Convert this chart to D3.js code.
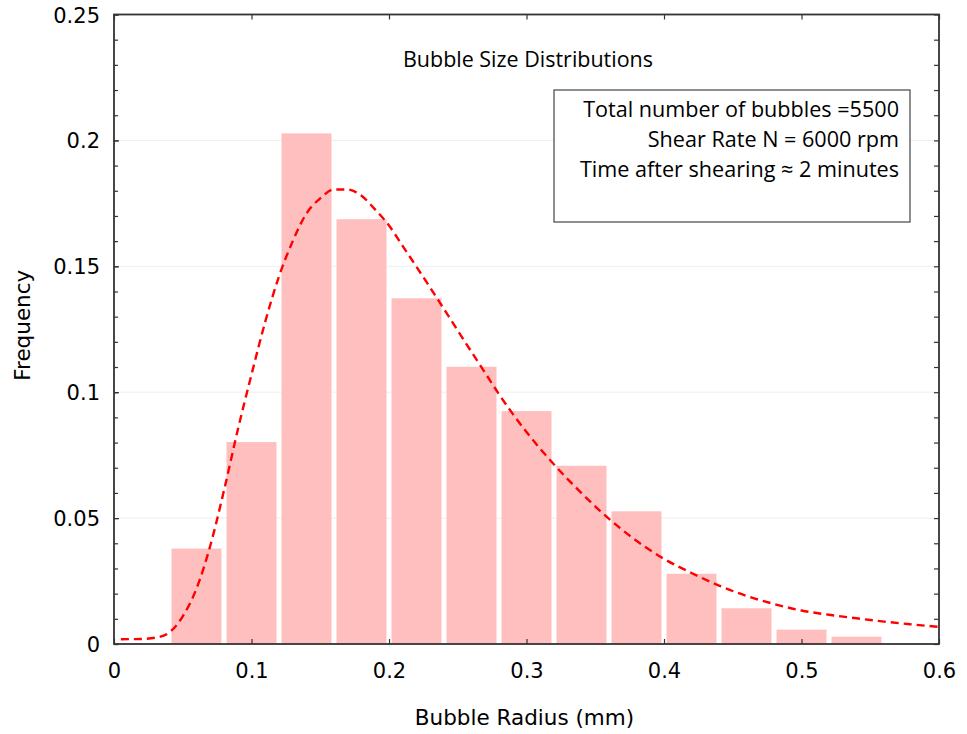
<!DOCTYPE html>
<html>
<head>
<meta charset="utf-8">
<script src="https://cdn.jsdelivr.net/npm/d3@7"></script>
<style>
  html, body { margin: 0; padding: 0; background: #fff; }
  svg { display: block; }
</style>
</head>
<body>
<svg id="chart" width="967" height="734"></svg>
<script>
// Histogram bins (left edges, mm) and their relative frequencies
const binStarts = [0.04, 0.08, 0.12, 0.16, 0.20, 0.24, 0.28, 0.32, 0.36, 0.40, 0.44, 0.48, 0.52];
const binWidth = 0.04;
const frequencies = [0.0379, 0.0802, 0.2028, 0.1687, 0.1373, 0.1101, 0.0925, 0.0708, 0.0527, 0.0279, 0.0142, 0.0057, 0.0029];

// Fitted distribution curve (radius, frequency)
const fitRadius = [0.005, 0.02, 0.03, 0.04, 0.05, 0.06, 0.07, 0.08, 0.09, 0.10, 0.11, 0.12, 0.13, 0.14, 0.15,
                   0.16, 0.17, 0.18, 0.19, 0.20, 0.21, 0.22, 0.23, 0.24, 0.25, 0.26, 0.27, 0.28, 0.29, 0.30,
                   0.32, 0.34, 0.36, 0.38, 0.40, 0.42, 0.44, 0.46, 0.48, 0.50, 0.52, 0.54, 0.56, 0.58, 0.60];
const fitFreq = [0.0019, 0.0020, 0.0025, 0.0045, 0.011, 0.022, 0.039, 0.061, 0.085, 0.107, 0.128, 0.146, 0.160, 0.171, 0.177,
                 0.1805, 0.1805, 0.178, 0.1725, 0.1662, 0.158, 0.1498, 0.1415, 0.133, 0.1245, 0.116, 0.1076, 0.0992, 0.0914, 0.0842,
                 0.0713, 0.0599, 0.0497, 0.0410, 0.0338, 0.0282, 0.0232, 0.0191, 0.0159, 0.0133, 0.0116, 0.0102, 0.0089, 0.0078, 0.0068];

// Axis ticks
const xTicks = [0, 0.1, 0.2, 0.3, 0.4, 0.5, 0.6];
const xTickLabels = ["0", "0.1", "0.2", "0.3", "0.4", "0.5", "0.6"];
const yTicks = [0, 0.05, 0.1, 0.15, 0.2, 0.25];
const yTickLabels = ["0", "0.05", "0.1", "0.15", "0.2", "0.25"];
const yMinorTicks = d3.range(0, 26).map(i => i / 100);

// Annotation texts
const titleText = "Bubble Size Distributions";
const infoLines = ["Total number of bubbles =5500", "Shear Rate N = 6000 rpm", "Time after shearing \u2248 2 minutes"];
const xLabel = "Bubble Radius (mm)";
const yLabel = "Frequency";

const svg = d3.select("#chart");
const plot = { left: 114, right: 939, top: 14.5, bottom: 644 };

const x = d3.scaleLinear().domain([0, 0.6]).range([plot.left, plot.right]);
const y = d3.scaleLinear().domain([0, 0.25]).range([plot.bottom, plot.top]);

const tickFont = "'DejaVu Sans', Verdana, sans-serif";
const textFont = "'Open Sans', Lato, sans-serif";

// faint horizontal grid
svg.append("g")
  .selectAll("line")
  .data(yTicks.slice(1, -1))
  .join("line")
  .attr("x1", plot.left).attr("x2", plot.right)
  .attr("y1", d => y(d)).attr("y2", d => y(d))
  .attr("stroke", "#efefef").attr("stroke-width", 1);

// histogram bars, separated by a white gap
const gap = 2.5;
svg.append("g")
  .selectAll("rect")
  .data(binStarts.map((s, i) => ({ s, f: frequencies[i] })))
  .join("rect")
  .attr("x", d => x(d.s) + gap)
  .attr("width", d => x(d.s + binWidth) - x(d.s) - 2 * gap)
  .attr("y", d => y(d.f))
  .attr("height", d => y(0) - y(d.f))
  .attr("fill", "#ffbfbf");

// fitted curve
const line = d3.line()
  .x(d => x(d[0]))
  .y(d => y(d[1]))
  .curve(d3.curveMonotoneX);

svg.append("path")
  .datum(fitRadius.map((r, i) => [r, fitFreq[i]]))
  .attr("d", line)
  .attr("fill", "none")
  .attr("stroke", "#ff0000")
  .attr("stroke-width", 2.4)
  .attr("stroke-dasharray", "8,5");

// axes (ticks point inward)
const axisColor = "#333";
const bottomAxis = svg.append("g")
  .attr("transform", `translate(0,${plot.bottom})`)
  .call(d3.axisBottom(x).tickValues(xTicks).tickFormat((d, i) => xTickLabels[i]).tickSizeInner(-5).tickSizeOuter(0).tickPadding(14));
const topAxis = svg.append("g")
  .attr("transform", `translate(0,${plot.top})`)
  .call(d3.axisTop(x).tickValues(xTicks).tickFormat("").tickSizeInner(-5).tickSizeOuter(0));
const leftAxisMinor = svg.append("g")
  .attr("transform", `translate(${plot.left},0)`)
  .call(d3.axisLeft(y).tickValues(yMinorTicks).tickFormat("").tickSizeInner(-4).tickSizeOuter(0));
const leftAxis = svg.append("g")
  .attr("transform", `translate(${plot.left},0)`)
  .call(d3.axisLeft(y).tickValues(yTicks).tickFormat((d, i) => yTickLabels[i]).tickSizeInner(-5).tickSizeOuter(0).tickPadding(14));
const rightAxis = svg.append("g")
  .attr("transform", `translate(${plot.right},0)`)
  .call(d3.axisRight(y).tickValues(yMinorTicks).tickFormat("").tickSizeInner(-5).tickSizeOuter(0));

[bottomAxis, topAxis, leftAxisMinor, leftAxis, rightAxis].forEach(g => {
  g.select(".domain").remove();
  g.selectAll(".tick line").attr("stroke", axisColor).attr("stroke-width", 1.2);
  g.selectAll(".tick text")
    .attr("fill", "#000")
    .style("font-family", tickFont)
    .style("font-size", "21px");
});
bottomAxis.selectAll(".tick text").attr("dy", "0.95em");
leftAxis.selectAll(".tick text").attr("dy", "0.36em");

// plot frame
svg.append("rect")
  .attr("x", plot.left).attr("y", plot.top)
  .attr("width", plot.right - plot.left).attr("height", plot.bottom - plot.top)
  .attr("fill", "none").attr("stroke", axisColor).attr("stroke-width", 1.8);

// axis titles
svg.append("text")
  .attr("x", (plot.left + plot.right) / 2 - 2)
  .attr("y", 725)
  .attr("text-anchor", "middle")
  .style("font-family", tickFont).style("font-size", "21.5px")
  .text(xLabel);

svg.append("text")
  .attr("transform", `translate(30,${(plot.top + plot.bottom) / 2 - 4}) rotate(-90)`)
  .attr("text-anchor", "middle")
  .style("font-family", tickFont).style("font-size", "21.5px")
  .text(yLabel);

// scale a text's font so that it spans the given width
function fitWidth(sel, targetWidth) {
  sel.each(function () {
    const base = parseFloat(this.style.fontSize);
    const w = this.getComputedTextLength();
    if (w > 0) d3.select(this).style("font-size", (base * targetWidth / w).toFixed(2) + "px");
  });
}

// chart title inside plot
svg.append("text")
  .attr("x", 528).attr("y", 66.5)
  .attr("text-anchor", "middle")
  .style("font-family", textFont).style("font-size", "20px")
  .text(titleText)
  .call(fitWidth, 250);

// info box
svg.append("rect")
  .attr("x", 554).attr("y", 90)
  .attr("width", 356).attr("height", 132)
  .attr("fill", "#fff").attr("stroke", "#444").attr("stroke-width", 1.2);

const info = svg.append("g")
  .selectAll("text")
  .data(infoLines)
  .join("text")
  .attr("x", 899)
  .attr("y", (d, i) => 116.5 + i * 30)
  .attr("text-anchor", "end")
  .style("font-family", textFont).style("font-size", "20px")
  .text(d => d);

// size the box lines together from the first line's width
const firstWidth = info.nodes()[0].getComputedTextLength();
const infoSize = (20 * 316 / firstWidth).toFixed(2) + "px";
info.style("font-size", infoSize);
</script>
</body>
</html>
